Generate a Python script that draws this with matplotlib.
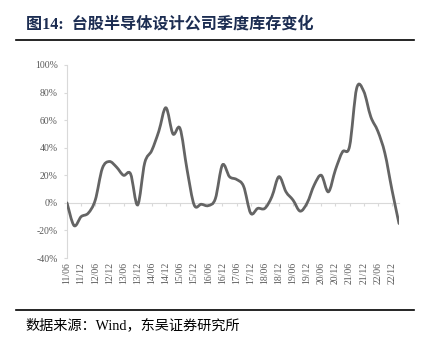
import matplotlib.pyplot as plt
from matplotlib.path import Path
from matplotlib.patches import PathPatch
from matplotlib.lines import Line2D
import numpy as np

# 季度库存同比变化（%），2011Q2 - 2023Q1
quarters = ["11/06", "11/09", "11/12", "12/03", "12/06", "12/09", "12/12", "13/03",
            "13/06", "13/09", "13/12", "14/03", "14/06", "14/09", "14/12", "15/03",
            "15/06", "15/09", "15/12", "16/03", "16/06", "16/09", "16/12", "17/03",
            "17/06", "17/09", "17/12", "18/03", "18/06", "18/09", "18/12", "19/03",
            "19/06", "19/09", "19/12", "20/03", "20/06", "20/09", "20/12", "21/03",
            "21/06", "21/09", "21/12", "22/03", "22/06", "22/09", "22/12", "23/03"]
inventory_yoy = [0, -16.5, -10, -7.5, 2, 25, 30, 26,
                 20, 21, -1.5, 29, 38, 52, 69, 50,
                 54, 24, -1.5, -1, -2, 3, 27.5, 19,
                 17, 12, -7.5, -4, -4, 4.5, 19, 8,
                 2, -6, 0, 13, 20, 8, 24, 37,
                 41, 83, 81, 62.5, 52, 36, 9.5, -15]
y_ticks = [-40, -20, 0, 20, 40, 60, 80, 100]

title_text = "图14:  台股半导体设计公司季度库存变化"
source_text = "数据来源：Wind，东吴证券研究所"

serif_cjk = ["Liberation Serif", "Noto Sans CJK SC"]
axis_gray = "#d9d9d9"
label_gray = "#595959"


def smooth_path(xs, ys):
    # Catmull-Rom style bezier through every point (like a spreadsheet "smoothed line")
    pts = np.column_stack([xs, ys]).astype(float)
    n = len(pts)
    verts = [pts[0]]
    codes = [Path.MOVETO]
    for i in range(n - 1):
        p0 = pts[max(i - 1, 0)]
        p1 = pts[i]
        p2 = pts[i + 1]
        p3 = pts[min(i + 2, n - 1)]
        c1 = p1 + (p2 - p0) / 6.0
        c2 = p2 - (p3 - p1) / 6.0
        verts += [c1, c2, p2]
        codes += [Path.CURVE4] * 3
    return Path(verts, codes)


fig = plt.figure(figsize=(4.23, 3.49), dpi=100)
ax = fig.add_axes([0.1584, 0.2607, 0.7849, 0.5531])

x = np.arange(len(quarters))
ax.add_patch(PathPatch(smooth_path(x, inventory_yoy), fill=False,
                       edgecolor="#646464", linewidth=2.0, capstyle="round",
                       joinstyle="round", zorder=3))

ax.set_xlim(0, len(quarters) - 1)
ax.set_ylim(-40, 100)

# y 轴
ax.set_yticks(y_ticks)
ax.set_yticklabels([f"{v}%" for v in y_ticks], family="Liberation Serif",
                   fontsize=7, color=label_gray)
ax.tick_params(axis="y", direction="out", length=2.5, width=0.8,
               color=axis_gray, pad=4)

# x 轴标签在底部，每半年一个
half_year = x[::2]
ax.set_xticks(half_year)
ax.set_xticklabels([quarters[i] for i in half_year], rotation=90,
                   family="Liberation Serif", fontsize=7, color=label_gray)
ax.tick_params(axis="x", length=0, pad=3)

for side in ["top", "right", "bottom"]:
    ax.spines[side].set_visible(False)
ax.spines["left"].set_color(axis_gray)
ax.spines["left"].set_linewidth(0.8)

# 0% 处的横轴及刻度
zero_pos = (0 - (-40)) / (100 - (-40))
sec = ax.secondary_xaxis(zero_pos)
sec.set_xticks(half_year)
sec.set_xticklabels([])
sec.tick_params(axis="x", direction="out", length=2.5, width=0.8,
                color=axis_gray)
sec.spines["bottom"].set_color(axis_gray)
sec.spines["bottom"].set_linewidth(0.8)

# 标题、分隔线与数据来源
fig.text(0.062, 0.931, title_text, family=serif_cjk, fontsize=11.6,
         fontweight="bold", color="#1c2d52", va="center", ha="left")
fig.add_artist(Line2D([0.038, 0.979], [0.885, 0.885], color="black",
                      linewidth=1.2, transform=fig.transFigure))
fig.add_artist(Line2D([0.038, 0.979], [0.113, 0.113], color="black",
                      linewidth=1.2, transform=fig.transFigure))
fig.text(0.059, 0.068, source_text, family=serif_cjk, fontsize=10.2,
         color="black", va="center", ha="left")

fig.savefig("out.png", dpi=100)
